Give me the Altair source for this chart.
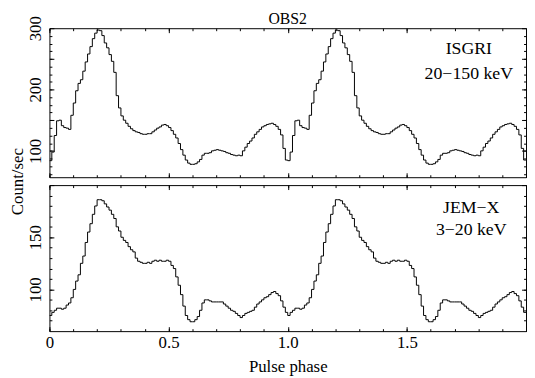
import altair as alt
import pandas as pd

FONT = "Liberation Serif"

# ISGRI 20-150 keV pulse profile, 100 bins over one cycle (count/sec)
isgri = [84, 98, 125, 149, 150, 141, 138, 137, 135, 158,
         178, 198, 210, 216, 230, 245, 258, 270, 283, 292,
         297, 296, 288, 276, 268, 257, 246, 228, 190, 170,
         157, 150, 145, 140, 136, 133, 131, 130, 128, 127,
         127, 128, 128, 131, 134, 137, 139, 142, 143, 141,
         138, 133, 127, 121, 112, 102, 93, 85, 80, 78,
         78, 79, 82, 86, 93, 96, 96, 97, 100, 101,
         102, 101, 100, 99, 97, 96, 94, 93, 92, 93,
         92, 100, 106, 112, 116, 121, 127, 131, 135, 139,
         141, 143, 144, 145, 143, 140, 135, 126, 104, 85]

# JEM-X 3-20 keV pulse profile, 100 bins over one cycle (count/sec)
jemx = [75, 78, 80, 82, 82, 81, 82, 85, 87, 92,
        100, 108, 114, 125, 132, 145, 155, 163, 172, 180,
        186, 186, 185, 182, 179, 176, 172, 168, 160, 156,
        150, 147, 145, 141, 138, 136, 130, 127, 126, 125,
        125, 126, 125, 127, 128, 127, 128, 127, 127, 128,
        127, 123, 120, 112, 104, 95, 84, 75, 71, 69,
        69, 71, 74, 80, 87, 90, 90, 89, 88, 88,
        88, 88, 88, 86, 84, 82, 80, 79, 77, 75,
        73, 75, 77, 78, 79, 80, 83, 86, 88, 90,
        92, 93, 95, 97, 98, 96, 94, 89, 83, 78]

n_bins = 100
n_cycles = 2

x_major = [0, 0.5, 1.0, 1.5, 2.0]
x_minor = [i / 10 for i in range(0, 21)]
x_labels = [0, 0.5, 1.0, 1.5]

top_domain = [57, 300]
top_major = [100, 150, 200, 250, 300]
top_labels = [100, 200, 300]
top_minor = [62.5 + 12.5 * i for i in range(19)]

bot_domain = [60, 200]
bot_major = [100, 150, 200]
bot_labels = [100, 150]
bot_minor = [70 + 10 * i for i in range(13)]

top_text = ["ISGRI", "20\u2212150 keV"]
top_text_x = [1.76, 1.76]
top_text_y = [266, 226]
bot_text = ["JEM\u2212X", "3\u221220 keV"]
bot_text_x = [1.77, 1.77]
bot_text_y = [178, 157]

W = 483
H_TOP = 151
H_BOT = 148
MAJ = 4.5
MIN = 2.5


def profile(vals):
    full = vals * n_cycles
    rows = [{"phase": i / n_bins, "rate": v} for i, v in enumerate(full)]
    rows.append({"phase": n_cycles * 1.0, "rate": full[-1]})
    return pd.DataFrame(rows)


def label_expr(vals):
    cond = " || ".join(f"datum.value == {v}" for v in vals)
    return f"({cond}) ? (datum.value == 0 ? '0' : datum.label) : ''"


def xax(orient, major, labels=False, title=None):
    kw = dict(orient=orient, values=x_major if major else x_minor,
              tickSize=MAJ if major else MIN, offset=-(MAJ if major else MIN),
              domain=False, grid=False, labels=labels, title=title,
              tickColor="black", tickWidth=1)
    if labels:
        kw.update(labelExpr=label_expr(x_labels), format=".1f", labelFont=FONT,
                  labelFontSize=17, labelColor="black", labelPadding=4,
                  labelFlush=False, labelOverlap=False, labelBaseline="top")
    if title:
        kw.update(titleFont=FONT, titleFontSize=17, titleFontWeight="normal",
                  titleColor="black", titlePadding=8)
    return alt.Axis(**kw)


def yax(orient, ticks, tsize, labels=None, title=None, title_y=0):
    kw = dict(orient=orient, values=ticks, tickSize=tsize, offset=-tsize,
              domain=False, grid=False, labels=labels is not None, title=title,
              tickColor="black", tickWidth=1)
    if labels is not None:
        kw.update(labelExpr=label_expr(labels), labelFont=FONT, labelFontSize=17,
                  labelColor="black", labelAngle=270, labelAlign="center",
                  labelBaseline="bottom", labelPadding=5, labelFlush=False,
                  labelOverlap=False)
    if title:
        kw.update(titleFont=FONT, titleFontSize=17, titleFontWeight="normal",
                  titleColor="black", titleAngle=270, titleAlign="center",
                  titleBaseline="bottom", titleX=-28, titleY=title_y)
    return alt.Axis(**kw)


def panel(vals, dom, ymaj, ylab, ymin, height, texts, tx, ty, bottom):
    df = profile(vals)
    xs = alt.Scale(domain=[0, 2], nice=False, zero=False)
    ys = alt.Scale(domain=dom, nice=False, zero=False)
    base = alt.Chart(df)

    def enc(xa, ya):
        return dict(x=alt.X("phase:Q", scale=xs, axis=xa),
                    y=alt.Y("rate:Q", scale=ys, axis=ya))

    line = base.mark_line(interpolate="step-after", color="black",
                          strokeWidth=1, clip=True).encode(
        **enc(xax("bottom", True, labels=bottom,
                  title="Pulse phase" if bottom else None),
              yax("left", ymaj, MAJ, labels=ylab,
                  title=None if bottom else "Count/sec",
                  title_y=height + 4)))
    l2 = base.mark_line(opacity=0).encode(
        **enc(xax("bottom", False), yax("left", ymin, MIN)))
    l3 = base.mark_line(opacity=0).encode(
        **enc(xax("top", True), yax("right", ymaj, MAJ)))
    l4 = base.mark_line(opacity=0).encode(
        **enc(xax("top", False), yax("right", ymin, MIN)))
    tdf = pd.DataFrame({"label": texts, "tx": tx, "ty": ty})
    txt = alt.Chart(tdf).mark_text(font=FONT, fontSize=18, align="center",
                                   baseline="middle", color="black").encode(
        x=alt.X("tx:Q", scale=xs, axis=None),
        y=alt.Y("ty:Q", scale=ys, axis=None),
        text="label:N")
    return alt.layer(line, l2, l3, l4, txt).resolve_axis(
        x="independent", y="independent").properties(width=W, height=height)


top = panel(isgri, top_domain, top_major, top_labels, top_minor, H_TOP,
            top_text, top_text_x, top_text_y, False)
bot = panel(jemx, bot_domain, bot_major, bot_labels, bot_minor, H_BOT,
            bot_text, bot_text_x, bot_text_y, True)

chart = alt.vconcat(top, bot, spacing=8, bounds="flush").properties(
    title=alt.TitleParams("OBS2", font=FONT, fontSize=16, fontWeight="normal",
                          color="black", anchor="middle", frame="group",
                          offset=-12),
    padding=0,
    background="white",
).configure_view(stroke="black", strokeWidth=1)

chart.save("out.html", embed_options={"renderer": "svg", "actions": False})
